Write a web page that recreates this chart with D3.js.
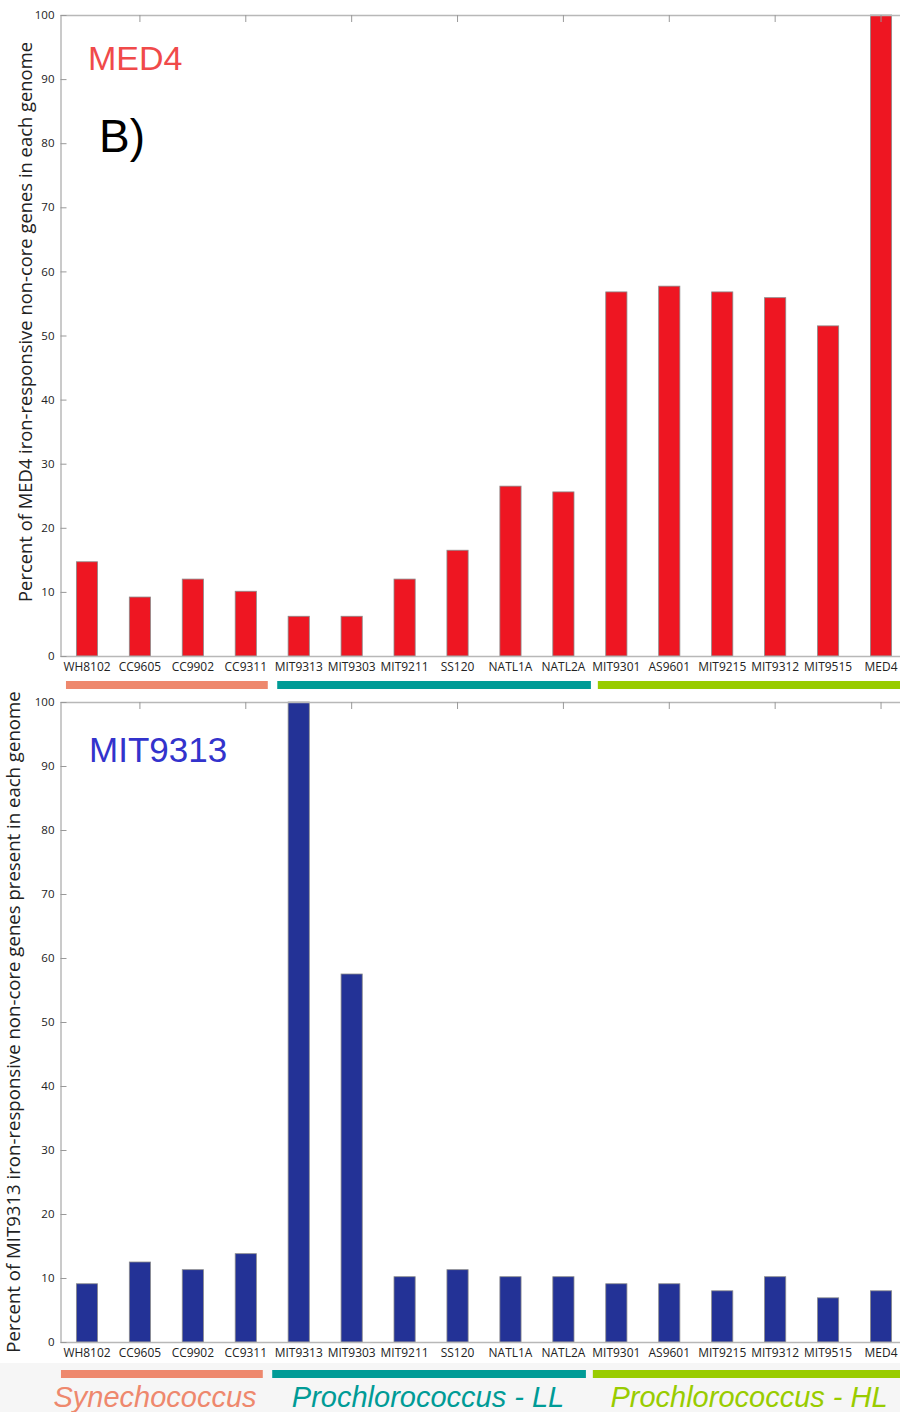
<!DOCTYPE html>
<html><head><meta charset="utf-8">
<script src="https://cdn.jsdelivr.net/npm/d3@7"></script>
<style>body{margin:0;background:#fff}svg{display:block}</style>
</head><body>
<script>
const strains = ["WH8102","CC9605","CC9902","CC9311","MIT9313","MIT9303","MIT9211","SS120","NATL1A","NATL2A","MIT9301","AS9601","MIT9215","MIT9312","MIT9515","MED4"];
const med4Values = [14.7, 9.2, 12.0, 10.1, 6.2, 6.2, 12.0, 16.5, 26.5, 25.6, 56.8, 57.7, 56.8, 55.9, 51.5, 100];
const mit9313Values = [9.1, 12.5, 11.3, 13.8, 100, 57.5, 10.2, 11.3, 10.2, 10.2, 9.1, 9.1, 8.0, 10.2, 6.9, 8.0];
const yTicks = [0,10,20,30,40,50,60,70,80,90,100];
const groups = [
  {name:"Synechococcus", first:"WH8102", last:"CC9311", color:"#EE886D"},
  {name:"Prochlorococcus - LL", first:"MIT9313", last:"NATL2A", color:"#009B96"},
  {name:"Prochlorococcus - HL", first:"MIT9301", last:"MED4", color:"#99CC00"}
];

const W = 900, H = 1412;
const svg = d3.select("body").append("svg").attr("width", W).attr("height", H);
svg.append("rect").attr("x",0).attr("y",1363).attr("width",W).attr("height",H-1363).attr("fill","#f6f6f6");

const x = d3.scaleBand().domain(strains).range([60.5, 907.5]).paddingInner(0.6).paddingOuter(0.3);
const cx = s => x(s) + x.bandwidth()/2;
// span offsets (start, end) relative to band centres for the group underline bars
const spanPad = [[-21, 22], [-21.5, 27.5], [-18.5, 60]];

function panel(cfg){
  const y = d3.scaleLinear().domain([0,100]).range([cfg.bottom, cfg.top]);
  const g = svg.append("g");
  g.selectAll("rect.bar").data(cfg.values).enter().append("rect")
    .attr("x",(d,i)=>x(strains[i])).attr("width",x.bandwidth())
    .attr("y",d=>y(d)).attr("height",d=>y(0)-y(d))
    .attr("fill",cfg.color).attr("stroke","#8a8a8a").attr("stroke-width",0.8);
  g.append("line").attr("x1",60.5).attr("x2",W).attr("y1",cfg.top+0.5).attr("y2",cfg.top+0.5).attr("stroke","#b8b8b8").attr("stroke-width",1.5);
  g.append("line").attr("x1",60.5).attr("x2",W).attr("y1",cfg.bottom+0.5).attr("y2",cfg.bottom+0.5).attr("stroke","#b8b8b8").attr("stroke-width",1.5);
  const tickCats = strains.filter((s,i)=>i%2===1);
  g.selectAll("line.tt").data(tickCats).enter().append("line")
    .attr("x1",d=>cx(d)).attr("x2",d=>cx(d))
    .attr("y1",cfg.top).attr("y2",cfg.top+7).attr("stroke","#999").attr("stroke-width",1);
  const ya = d3.axisLeft(y).tickValues(yTicks).tickSizeInner(-6).tickSizeOuter(0).tickPadding(9);
  const ax = g.append("g").attr("transform",`translate(60.5,0)`).call(ya);
  ax.select(".domain").attr("stroke","#b8b8b8").attr("stroke-width",1.5);
  ax.selectAll(".tick line").attr("stroke","#999");
  ax.selectAll(".tick text").attr("font-family","Open Sans, sans-serif").attr("font-size",11.5).attr("fill","#222").attr("dx",3);
  const xa = d3.axisBottom(x).tickSize(0).tickPadding(6);
  const xg = g.append("g").attr("transform",`translate(0,${cfg.bottom})`).call(xa);
  xg.select(".domain").remove();
  xg.selectAll(".tick").attr("transform",d=>`translate(${cx(d)},0) scale(0.92,1)`);
  xg.selectAll(".tick text").attr("font-family","Open Sans, sans-serif").attr("font-size",13).attr("fill","#222");
  svg.append("text").attr("transform",`translate(${cfg.ylabX},${cfg.ylabY}) rotate(-90)`)
    .attr("text-anchor","middle").attr("font-family","Open Sans, sans-serif").attr("font-size",cfg.ylabSize).attr("fill","#222")
    .text(cfg.ylabel);
  groups.forEach((gr,i)=>{
    const x0 = cx(gr.first) + spanPad[i][0] + cfg.gdx;
    const x1 = cx(gr.last) + spanPad[i][1] + cfg.gdx;
    svg.append("rect").attr("x",x0).attr("width",x1-x0)
      .attr("y",cfg.gy).attr("height",8).attr("fill",gr.color);
  });
}

panel({top:15, bottom:656, values:med4Values, color:"#EE1622",
  ylabel:"Percent of MED4 iron-responsive non-core genes in each genome", ylabX:32, ylabY:322, ylabSize:18.4,
  gy:681, gdx:0});
panel({top:702, bottom:1342, values:mit9313Values, color:"#233296",
  ylabel:"Percent of MIT9313 iron-responsive non-core genes present in each genome", ylabX:20, ylabY:1022, ylabSize:18.6,
  gy:1370, gdx:-5});

svg.append("text").attr("x",88).attr("y",70).attr("font-family","Liberation Sans, Arial, sans-serif").attr("font-size",34).attr("fill","#F04A4A").text("MED4");
svg.append("text").attr("x",99).attr("y",152).attr("font-family","Liberation Sans, Arial, sans-serif").attr("font-size",46).attr("fill","#000").text("B)");
svg.append("text").attr("x",89).attr("y",762).attr("font-family","Liberation Sans, Arial, sans-serif").attr("font-size",35).attr("fill","#3333CC").text("MIT9313");

const labelX = [155, 428, 749];
groups.forEach((gr,i)=>{
  svg.append("text").attr("x",labelX[i]).attr("y",1407).attr("text-anchor","middle")
    .attr("font-family","Liberation Sans, Arial, sans-serif").attr("font-style","italic").attr("font-size",29)
    .attr("fill",gr.color).text(gr.name);
});
</script>
</body></html>
